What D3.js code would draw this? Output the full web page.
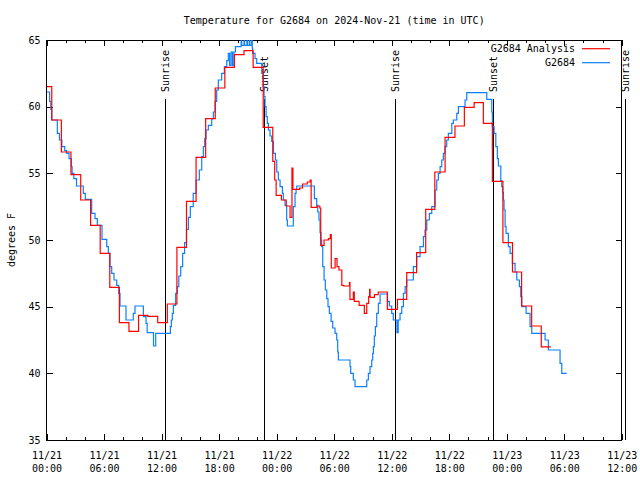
<!DOCTYPE html>
<html>
<head>
<meta charset="utf-8">
<script src="https://cdn.jsdelivr.net/npm/d3@7"></script>
<style>
  html, body { margin: 0; padding: 0; background: #fff; }
  svg { display: block; }
  text { font-family: "DejaVu Sans Mono", "Liberation Mono", monospace; fill: #000; }
</style>
</head>
<body>
<svg id="chart" width="640" height="480"></svg>
<script>
// ---------------- data ----------------
const chartTitle = "Temperature for G2684 on 2024-Nov-21 (time in UTC)";
const yLabel = "degrees F";
const seriesNames = ["G2684 Analysis", "G2684"];
const seriesColors = ["#ff0000", "#0a80ff"];
const startTime = Date.UTC(2024, 10, 21, 0, 0);   // 11/21 00:00 UTC
const endTime = Date.UTC(2024, 10, 23, 12, 0);    // 11/23 12:00 UTC
const yTicks = [35, 40, 45, 50, 55, 60, 65];
const xMajorTickHours = [0, 6, 12, 18, 24, 30, 36, 42, 48, 54, 60];

// hours after 11/21 00:00 UTC at which each value begins
const analysisHours = [0, 0.55, 1.55, 2.55, 3.57, 4.6, 5.6, 6.6, 7.6, 8.6, 9.6, 10.56, 11.6, 12.6, 13.6, 14.6,
  15.6, 16.6, 17.6, 18.6, 19.6, 20.6, 21.55, 22.6, 23.6, 23.8, 23.95, 24.5, 25.0, 25.4, 25.6, 25.7, 26.4, 26.7,
  27.2, 27.5, 27.6, 28.2, 28.5, 28.6, 28.95, 29.4, 29.6, 29.7, 30.1, 30.3, 30.5, 30.8, 31.0, 31.6, 31.65, 32.0,
  32.1, 32.6, 33.15, 33.4, 33.6, 33.7, 33.75, 34.2, 34.6, 35.55, 36.6, 37.57, 38.6, 39.55, 40.5, 41.57, 42.6,
  43.58, 44.6, 45.56, 46.5, 47.6, 48.6, 49.55, 50.6, 51.6, 52.6];
const analysisTemps = [61.5, 59.0, 56.6, 54.9, 53.0, 51.1, 49.0, 46.45, 43.8, 43.15, 44.35, 44.27, 43.8, 45.2, 49.45, 52.9,
  56.2, 59.1, 61.4, 62.95, 63.9, 64.2, 62.95, 58.45, 55.9, 54.5, 53.35, 53.0, 52.55, 51.7, 55.4, 53.8, 53.9, 54.2,
  54.35, 54.5, 52.45, 52.55, 52.4, 49.6, 50.0, 50.1, 50.4, 47.9, 48.6, 48.0, 47.75, 46.6, 46.55, 46.8, 45.55, 46.1,
  45.4, 45.1, 44.5, 45.25, 45.75, 46.3, 45.7, 45.9, 46.1, 44.8, 45.55, 47.55, 49.05, 52.3, 55.1, 57.7, 58.55,
  59.95, 60.3, 58.75, 54.4, 49.8, 47.6, 45.05, 43.55, 41.98, 41.98];

const observedHours = [0, 0.33, 0.45, 0.55, 1.13, 1.35, 1.6, 1.9, 2.1, 2.35, 2.6, 2.67, 2.85, 3.13, 3.84, 4.05,
  4.71, 5.06, 5.3, 5.79, 6.28, 6.45, 6.62, 6.8, 7.04, 7.32, 7.53, 7.67, 8.29, 9.05, 9.23, 10.1, 10.38, 10.5,
  11.16, 11.39, 12.92, 13.02, 13.12, 13.23, 13.47, 13.64, 13.8, 14.0, 14.2, 14.4, 14.6, 14.8, 15.0, 15.3, 15.6,
  15.94, 16.19, 16.36, 16.5, 16.64, 16.88, 17.23, 17.4, 17.58, 17.75, 17.92, 18.27, 18.55, 18.8, 18.96, 19.1,
  19.25, 19.4, 19.55, 19.7, 20.3, 20.36, 20.6, 20.66, 20.9, 20.96, 21.15, 21.21, 21.4, 21.46, 21.5, 21.75,
  21.92, 22.45, 22.6, 22.69, 22.79, 22.9, 23.03, 23.14, 23.31, 23.49, 23.66, 23.87, 24.01, 24.18, 24.36, 24.6,
  24.7, 24.88, 25.05, 25.12, 25.74, 25.92, 26.03, 26.1, 27.94, 28.18, 28.29, 28.42, 28.53, 28.63, 28.7, 28.81,
  28.95, 29.08, 29.23, 29.36, 29.5, 29.68, 29.85, 30.09, 30.27, 30.37, 30.44, 31.66, 31.73, 32.0, 32.18, 33.4,
  33.57, 33.74, 33.92, 34.02, 34.09, 34.19, 34.3, 34.44, 34.61, 34.79, 35.55, 35.76, 36.0, 36.17, 36.55, 36.68,
  36.87, 37.05, 37.22, 37.4, 37.57, 38.26, 38.61, 38.96, 39.31, 39.48, 39.66, 39.93, 40.18, 40.52, 40.7, 40.87,
  41.05, 41.22, 41.39, 41.57, 41.74, 41.91, 42.27, 42.43, 42.79, 42.96, 43.65, 43.83, 45.92, 46.44, 46.5, 46.68,
  46.86, 47.02, 47.13, 47.38, 47.48, 47.58, 47.65, 47.72, 47.83, 47.93, 48.17, 48.35, 48.59, 48.87, 49.05, 49.32,
  49.46, 49.57, 50.02, 50.43, 50.61, 52.0, 52.34, 53.56, 53.74, 54.26];
const observedTemps = [61.1, 60.4, 59.8, 59.0, 58.0, 57.5, 57.0, 56.7, 56.5, 56.1, 55.5, 55.0, 54.6, 54.05, 53.5, 53.05,
  52.0, 51.6, 51.1, 50.05, 49.5, 49.0, 48.0, 47.5, 47.0, 46.6, 46.0, 45.05, 44.0, 44.5, 45.05, 44.25, 43.75, 43.05,
  42.05, 43.0, 43.5, 44.0, 44.5, 45.1, 46.0, 46.5, 47.3, 48.0, 49.0, 49.8, 50.8, 51.7, 52.5, 53.5, 54.5,
  55.25, 56.25, 57.0, 57.6, 58.25, 58.6, 59.1, 59.6, 60.4, 61.25, 62.0, 62.5, 63.0, 63.45, 64.0, 63.1,
  64.1, 63.1, 64.1, 64.5, 65.6, 64.6, 65.6, 64.6, 65.6, 64.6, 65.6, 64.6, 65.6, 64.4, 64.0, 63.6,
  63.25, 62.5, 61.5, 60.75, 60.0, 59.25, 58.75, 58.25, 57.8, 57.4, 56.5, 56.0, 55.1, 54.5, 54.0, 53.5,
  53.0, 52.6, 51.5, 51.05, 52.5, 53.5, 53.8, 54.05, 53.1, 52.6, 52.1, 51.5, 50.55, 50.0, 49.5, 48.0,
  47.0, 46.25, 45.6, 45.0, 44.5, 43.9, 43.4, 43.0, 42.5, 41.6, 41.0, 40.5, 40.0, 39.5, 39.0, 39.5,
  40.0, 40.5, 41.0, 41.5, 42.0, 42.8, 43.5, 44.5, 45.25, 45.95, 45.4, 45.05, 44.5, 44.0, 43.05, 44.0,
  44.5, 45.0, 46.0, 46.5, 47.0, 48.0, 48.75, 49.5, 50.25, 50.75, 51.5, 52.0, 52.5, 53.75, 54.5, 55.0,
  55.5, 56.0, 56.5, 57.0, 57.5, 58.0, 58.75, 59.0, 59.5, 60.0, 60.5, 61.05, 60.55, 59.6, 58.5, 58.0,
  57.0, 56.1, 55.55, 54.45, 54.0, 53.55, 53.0, 52.25, 51.0, 50.5, 49.5, 49.0, 48.25, 47.6, 47.0, 46.5,
  45.75, 45.0, 44.5, 43.5, 43.0, 42.5, 41.75, 40.75, 40.0, 40.0];

const sunriseHours = [12.4, 36.42, 60.42];
const sunsetHours = [22.76, 46.57];

// ---------------- drawing ----------------
const HOUR = 3600 * 1000;
const toDate = h => new Date(startTime + h * HOUR);
const svg = d3.select("#chart");
const mLeft = 46.5, mRight = 621.8, mTop = 40, mBottom = 440;
const FONT = 10;

const x = d3.scaleUtc().domain([new Date(startTime), new Date(endTime)]).range([mLeft, mRight]);
const y = d3.scaleLinear().domain([35, 65]).range([mBottom, mTop]);

svg.append("rect").attr("width", 640).attr("height", 480).attr("fill", "#fff");

svg.append("defs").append("clipPath").attr("id", "plotclip")
  .append("rect").attr("x", mLeft).attr("y", mTop).attr("width", mRight - mLeft).attr("height", mBottom - mTop);

// title
svg.append("text").attr("x", (mLeft + mRight) / 2).attr("y", 24)
  .attr("text-anchor", "middle").attr("font-size", FONT).text(chartTitle);

// y label
svg.append("text").attr("transform", "translate(11,240) rotate(-90)")
  .attr("text-anchor", "middle").attr("dy", "0.35em").attr("font-size", FONT).text(yLabel);

const majorDates = xMajorTickHours.map(toDate);
const minorDates = d3.range(0, 61, 2).filter(h => h % 6 !== 0).map(toDate);
const fmtDay = d3.utcFormat("%m/%d"), fmtHour = d3.utcFormat("%H:%M");

function styleAxis(g) {
  g.select(".domain").remove();
  g.selectAll("line").attr("stroke", "#000").attr("shape-rendering", "crispEdges");
  g.selectAll("text").attr("font-family", "DejaVu Sans Mono, monospace").attr("font-size", FONT).attr("fill", "#000");
}

// bottom axis (major with labels)
const gx = svg.append("g").attr("transform", `translate(0,${mBottom})`)
  .call(d3.axisBottom(x).tickValues(majorDates).tickSizeInner(-6).tickSizeOuter(0).tickPadding(0).tickFormat(() => ""))
  .call(styleAxis);
gx.selectAll(".tick text").attr("dy", null).attr("y", null).each(function(d) {
  const t = d3.select(this);
  t.append("tspan").attr("x", 0).attr("y", 19).text(fmtDay(d));
  t.append("tspan").attr("x", 0).attr("y", 32).text(fmtHour(d));
});
svg.append("g").attr("transform", `translate(0,${mBottom})`)
  .call(d3.axisBottom(x).tickValues(minorDates).tickSizeInner(-3).tickSizeOuter(0).tickFormat(""))
  .call(styleAxis);
// top mirror ticks
svg.append("g").attr("transform", `translate(0,${mTop})`)
  .call(d3.axisTop(x).tickValues(majorDates).tickSizeInner(-6).tickSizeOuter(0).tickFormat(""))
  .call(styleAxis);
svg.append("g").attr("transform", `translate(0,${mTop})`)
  .call(d3.axisTop(x).tickValues(minorDates).tickSizeInner(-3).tickSizeOuter(0).tickFormat(""))
  .call(styleAxis);
// left / right axes
svg.append("g").attr("transform", `translate(${mLeft},0)`)
  .call(d3.axisLeft(y).tickValues(yTicks).tickSizeInner(-6).tickSizeOuter(0).tickPadding(6).tickFormat(d3.format("d")))
  .call(styleAxis);
svg.append("g").attr("transform", `translate(${mRight},0)`)
  .call(d3.axisRight(y).tickValues(yTicks).tickSizeInner(-6).tickSizeOuter(0).tickFormat(""))
  .call(styleAxis);

// frame
svg.append("rect").attr("x", mLeft).attr("y", mTop).attr("width", mRight - mLeft).attr("height", mBottom - mTop)
  .attr("fill", "none").attr("stroke", "#000").attr("stroke-width", 1).attr("shape-rendering", "crispEdges");

// sunrise / sunset markers
const sunEvents = sunriseHours.map(h => ({h, label: "Sunrise"}))
  .concat(sunsetHours.map(h => ({h, label: "Sunset"})));
const sg = svg.append("g");
sunEvents.forEach(ev => {
  const xp = x(toDate(ev.h));
  sg.append("line").attr("x1", xp).attr("x2", xp).attr("y1", 99).attr("y2", mBottom)
    .attr("stroke", "#000").attr("stroke-width", 1).attr("shape-rendering", "crispEdges");
  sg.append("text").attr("transform", `translate(${xp},92) rotate(-90)`)
    .attr("dy", "0.35em").attr("font-size", FONT).text(ev.label);
});

// series
const line = d3.line().curve(d3.curveStepAfter)
  .x(d => x(toDate(d[0]))).y(d => y(d[1]));
const seriesData = [
  d3.zip(analysisHours, analysisTemps),
  d3.zip(observedHours, observedTemps)
];
const plot = svg.append("g").attr("clip-path", "url(#plotclip)");
[1, 0].forEach(i => {
  plot.append("path").datum(seriesData[i]).attr("d", line)
    .attr("fill", "none").attr("stroke", seriesColors[i]).attr("stroke-width", 1.2);
});

// legend
seriesNames.forEach((name, i) => {
  const ly = 48.7 + i * 14;
  svg.append("text").attr("x", 575).attr("y", ly).attr("dy", "0.35em")
    .attr("text-anchor", "end").attr("font-size", FONT).text(name);
  svg.append("line").attr("x1", 582).attr("x2", 610).attr("y1", ly).attr("y2", ly)
    .attr("stroke", seriesColors[i]).attr("stroke-width", 1.2);
});
</script>
</body>
</html>
